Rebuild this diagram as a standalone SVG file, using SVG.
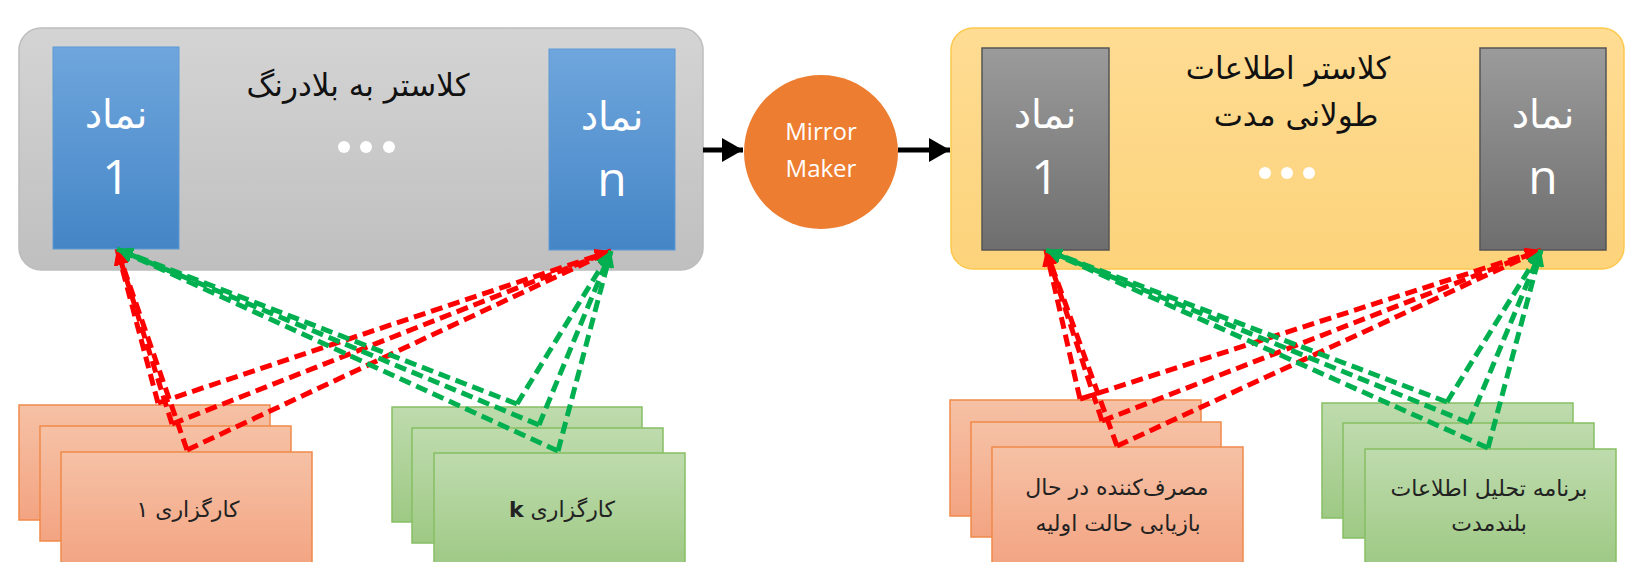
<svg xmlns="http://www.w3.org/2000/svg" width="1625" height="562" viewBox="0 0 1625 562">
<defs>
<linearGradient id="gGrey" x1="0" y1="0" x2="0" y2="1"><stop offset="0" stop-color="#d4d4d4"/><stop offset="1" stop-color="#bfbfbf"/></linearGradient>
<linearGradient id="gBlue" x1="0" y1="0" x2="0" y2="1"><stop offset="0" stop-color="#6fa6dd"/><stop offset="1" stop-color="#4485c6"/></linearGradient>
<linearGradient id="gYel" x1="0" y1="0" x2="0" y2="1"><stop offset="0" stop-color="#fedc93"/><stop offset="1" stop-color="#fdd37b"/></linearGradient>
<linearGradient id="gDark" x1="0" y1="0" x2="0" y2="1"><stop offset="0" stop-color="#9b9b9b"/><stop offset="1" stop-color="#6e6e6e"/></linearGradient>
<linearGradient id="gOr" x1="0" y1="0" x2="0" y2="1"><stop offset="0" stop-color="#f6c1a5"/><stop offset="1" stop-color="#f3a482"/></linearGradient>
<linearGradient id="gGr" x1="0" y1="0" x2="0" y2="1"><stop offset="0" stop-color="#bedbad"/><stop offset="1" stop-color="#9ec984"/></linearGradient>
<marker id="mRed" markerUnits="userSpaceOnUse" markerWidth="17" markerHeight="15" refX="16" refY="7.5" orient="auto"><path d="M0,0 L16,7.5 L0,15 Z" fill="#ff0000"/></marker>
<marker id="mGreen" markerUnits="userSpaceOnUse" markerWidth="17" markerHeight="15" refX="16" refY="7.5" orient="auto"><path d="M0,0 L16,7.5 L0,15 Z" fill="#00b050"/></marker>
<marker id="mBlack" markerUnits="userSpaceOnUse" markerWidth="22" markerHeight="24" refX="21" refY="12" orient="auto"><path d="M0,0 L21,12 L0,24 Z" fill="#000"/></marker>
</defs>
<style>
.ar{font-family:"DejaVu Sans",sans-serif;direction:rtl;text-anchor:middle}
.lat{font-family:"Open Sans","Liberation Sans",sans-serif;text-anchor:middle}
.title{font-size:31px;fill:#111}
.nm{font-size:39px;fill:#fff}
.num{font-size:48px;fill:#fff}
.lbl{font-size:22px;fill:#222}
.dot{fill:#fff}
.red{stroke:#ff0000;stroke-width:5;stroke-dasharray:12 6;fill:none;marker-end:url(#mRed)}
.grn{stroke:#00b050;stroke-width:5;stroke-dasharray:12 6;fill:none;marker-end:url(#mGreen)}
.blk{stroke:#000;stroke-width:5;fill:none;marker-end:url(#mBlack)}
.ob{fill:url(#gOr);stroke:#f0894a;stroke-width:1.5}
.gb{fill:url(#gGr);stroke:#86bf63;stroke-width:1.5}
</style>
<rect width="1625" height="562" fill="#fff"/>

<g id="cluster-realtime">
<rect x="19" y="28" width="684" height="242" rx="22" fill="url(#gGrey)" stroke="#bdbdbd" stroke-width="1.5"/>
<text class="ar title" x="358" y="96">کلاستر به بلادرنگ</text>
<circle class="dot" cx="344" cy="147" r="6"/><circle class="dot" cx="366" cy="147" r="6"/><circle class="dot" cx="389" cy="147" r="6"/>
</g>
<g id="symbol-1-left">
<rect x="53" y="47" width="126" height="202" fill="url(#gBlue)" stroke="#5f9ad4" stroke-width="1"/>
<text class="ar nm" x="116" y="128">نماد</text>
<text class="lat num" x="116" y="194">1</text>
</g>
<g id="symbol-n-left">
<rect x="549" y="49" width="126" height="201" fill="url(#gBlue)" stroke="#5f9ad4" stroke-width="1"/>
<text class="ar nm" x="612" y="130">نماد</text>
<text class="lat num" x="612" y="196">n</text>
</g>

<g id="mirror-maker">
<circle cx="821" cy="152" r="77" fill="#ed7d31"/>
<text class="lat" x="821" y="140" font-size="24" fill="#fff">Mirror</text>
<text class="lat" x="821" y="177" font-size="24" fill="#fff">Maker</text>
</g>

<g id="cluster-longterm">
<rect x="951" y="28" width="673" height="241" rx="22" fill="url(#gYel)" stroke="#fcc84e" stroke-width="1.5"/>
<text class="ar title" x="1288" y="79">کلاستر اطلاعات</text>
<text class="ar title" x="1296" y="126">طولانی مدت</text>
<circle class="dot" cx="1265" cy="173" r="6"/><circle class="dot" cx="1287" cy="173" r="6"/><circle class="dot" cx="1309" cy="173" r="6"/>
</g>
<g id="symbol-1-right">
<rect x="982" y="48" width="127" height="202" fill="url(#gDark)" stroke="#555" stroke-width="1.5"/>
<text class="ar nm" x="1045" y="128">نماد</text>
<text class="lat num" x="1045" y="194">1</text>
</g>
<g id="symbol-n-right">
<rect x="1480" y="48" width="126" height="202" fill="url(#gDark)" stroke="#555" stroke-width="1.5"/>
<text class="ar nm" x="1543" y="128">نماد</text>
<text class="lat num" x="1543" y="194">n</text>
</g>

<g id="brokers-1">
<rect class="ob" x="19" y="405" width="251" height="115"/>
<rect class="ob" x="40" y="426" width="251" height="115"/>
<rect class="ob" x="61" y="452" width="251" height="116"/>
<text class="ar lbl" x="188" y="517">کارگزاری ۱</text>
</g>
<g id="brokers-k">
<rect class="gb" x="392" y="407" width="250" height="115"/>
<rect class="gb" x="412" y="428" width="251" height="115"/>
<rect class="gb" x="434" y="453" width="251" height="116"/>
<text class="ar lbl" x="562" y="517">کارگزاری <tspan font-weight="bold">k</tspan></text>
</g>
<g id="recovery-consumers">
<rect class="ob" x="950" y="400" width="251" height="116"/>
<rect class="ob" x="971" y="422" width="250" height="115"/>
<rect class="ob" x="992" y="447" width="251" height="120"/>
<text class="ar lbl" x="1117" y="495">مصرف‌کننده در حال</text>
<text class="ar lbl" x="1118" y="531">بازیابی حالت اولیه</text>
</g>
<g id="analytics-apps">
<rect class="gb" x="1322" y="403" width="251" height="115"/>
<rect class="gb" x="1343" y="423" width="251" height="115"/>
<rect class="gb" x="1365" y="449" width="251" height="118"/>
<text class="ar lbl" x="1489" y="496">برنامه تحلیل اطلاعات</text>
<text class="ar lbl" x="1489" y="531">بلندمدت</text>
</g>

<g id="connectors">
<line class="blk" x1="703" y1="150" x2="743" y2="150"/>
<line class="blk" x1="898" y1="150" x2="950" y2="150"/>
<line class="red" x1="158" y1="403" x2="117" y2="249"/>
<line class="red" x1="172" y1="424" x2="117" y2="249"/>
<line class="red" x1="187" y1="450" x2="117" y2="249"/>
<line class="red" x1="158" y1="403" x2="611" y2="251"/>
<line class="red" x1="172" y1="424" x2="611" y2="251"/>
<line class="red" x1="187" y1="450" x2="611" y2="251"/>
<line class="grn" x1="517" y1="404" x2="117" y2="249"/>
<line class="grn" x1="539" y1="425" x2="117" y2="249"/>
<line class="grn" x1="558" y1="451" x2="117" y2="249"/>
<line class="grn" x1="517" y1="404" x2="611" y2="251"/>
<line class="grn" x1="539" y1="425" x2="611" y2="251"/>
<line class="grn" x1="558" y1="451" x2="611" y2="251"/>
<line class="red" x1="1080" y1="399" x2="1046" y2="250"/>
<line class="red" x1="1102" y1="421" x2="1046" y2="250"/>
<line class="red" x1="1117" y1="446" x2="1046" y2="250"/>
<line class="red" x1="1080" y1="399" x2="1541" y2="250"/>
<line class="red" x1="1102" y1="421" x2="1541" y2="250"/>
<line class="red" x1="1117" y1="446" x2="1541" y2="250"/>
<line class="grn" x1="1447" y1="402" x2="1046" y2="250"/>
<line class="grn" x1="1469" y1="423" x2="1046" y2="250"/>
<line class="grn" x1="1488" y1="448" x2="1046" y2="250"/>
<line class="grn" x1="1447" y1="402" x2="1541" y2="250"/>
<line class="grn" x1="1469" y1="423" x2="1541" y2="250"/>
<line class="grn" x1="1488" y1="448" x2="1541" y2="250"/>
</g>
</svg>
